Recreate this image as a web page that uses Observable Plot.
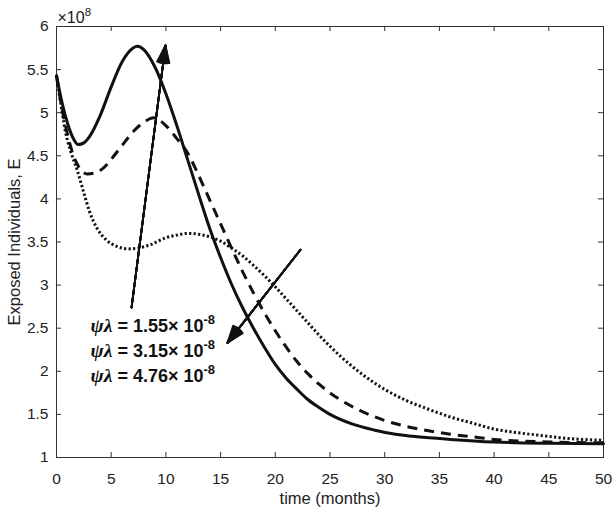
<!DOCTYPE html>
<html>
<head>
<meta charset="utf-8">
<script src="https://cdn.jsdelivr.net/npm/d3@7"></script>
<script src="https://cdn.jsdelivr.net/npm/@observablehq/plot@0.6"></script>
<style>
  html, body { margin: 0; padding: 0; background: #fff; }
  #chart svg { display: block; }
</style>
</head>
<body>
<div id="chart"></div>
<script>
// ---- data (E in units of 1e8) ----
const tSolid = [0,0.5,1,1.5,2,2.5,3,4,5,6,7,7.4,8,9,10,11,12,13,14,15,16,17,18,19,20,21,22,23,24,25,27,29,31,33,36,40,45,50];
const eSolid = [5.43,5.12,4.88,4.71,4.63,4.65,4.72,4.97,5.30,5.59,5.75,5.77,5.73,5.53,5.22,4.85,4.45,4.05,3.66,3.32,3.01,2.74,2.50,2.28,2.08,1.92,1.79,1.67,1.58,1.50,1.39,1.32,1.27,1.24,1.21,1.18,1.165,1.16];

const tDashed = [0,0.5,1,1.5,2,2.8,3.5,4.3,5,6,7,8,8.9,10,11,12,13,14,15,16,17,18,19,20,21,22,23,24,25,26.6,28,30,32,34,36,38,40,45,50];
const eDashed = [5.43,5.05,4.75,4.52,4.38,4.29,4.30,4.36,4.46,4.62,4.78,4.89,4.94,4.85,4.70,4.53,4.27,3.99,3.71,3.43,3.16,2.91,2.68,2.47,2.28,2.11,1.97,1.85,1.75,1.62,1.53,1.43,1.36,1.31,1.27,1.24,1.21,1.18,1.17];

const tDotted = [0,0.4,0.8,1.3,1.9,2.5,3,3.7,4.5,5.5,6.5,7.5,8.6,10,11,12,13,14,15,16,17,18,19,20,21,22,23,24,25,26,27,28,30,32,34,36,38,40,42,44,46,48,50];
const eDotted = [5.43,5.10,4.79,4.55,4.33,4.07,3.86,3.66,3.53,3.45,3.42,3.43,3.47,3.55,3.58,3.60,3.59,3.56,3.51,3.43,3.34,3.23,3.11,2.98,2.84,2.70,2.56,2.42,2.29,2.17,2.06,1.96,1.79,1.66,1.56,1.47,1.40,1.33,1.29,1.26,1.23,1.21,1.20];

const xTicks = [0,5,10,15,20,25,30,35,40,45,50];
const yTicks = [1,1.5,2,2.5,3,3.5,4,4.5,5,5.5,6];

const labelTexts = ["ψλ = 1.55× 10^-8", "ψλ = 3.15× 10^-8", "ψλ = 4.76× 10^-8"];
const labelX = [3.1, 3.1, 3.1];
const labelY = [2.52, 2.23, 1.94];

const arrowX1 = [6.86, 22.3];
const arrowY1 = [2.74, 3.41];
const arrowX2 = [9.96, 15.63];
const arrowY2 = [5.78, 2.33];

const xLabel = "time (months)";
const yLabel = "Exposed Individuals, E";
const exponentLabel = "×10^8";

// ---- build tables ----
const toRows = (ts, es) => ts.map((t, i) => ({t, e: es[i]}));
const solid = toRows(tSolid, eSolid);
const dashed = toRows(tDashed, eDashed);
const dotted = toRows(tDotted, eDotted);
const labels = labelTexts.map((s, i) => ({s, x: labelX[i], y: labelY[i]}));
const arrows = arrowX1.map((x1, i) => ({x1, y1: arrowY1[i], x2: arrowX2[i], y2: arrowY2[i]}));

const W = 614, H = 511;
const mL = 56, mR = 11, mT = 26, mB = 54;
const innerW = W - mL - mR, innerH = H - mT - mB;
const axisColor = "#333";
const ink = "#111";
const txt = "#222";

const headFan = [4, 10, 16, 22, 28, 34, 40];

const plot = Plot.plot({
  width: W, height: H,
  marginLeft: mL, marginRight: mR, marginTop: mT, marginBottom: mB,
  style: {fontFamily: "'Liberation Sans', Arial, Helvetica, sans-serif", fontSize: "15.5px", color: txt, background: "#fff"},
  x: {domain: [0, 50], ticks: xTicks, tickSize: 0, tickPadding: 15, tickFormat: d => String(d), label: null},
  y: {domain: [1, 6], ticks: yTicks, tickSize: 0, tickPadding: 8, tickFormat: d => String(d), label: null},
  marks: [
    Plot.frame({stroke: axisColor, strokeWidth: 1}),
    Plot.tickX(xTicks, {x: d => d, insetTop: innerH - 5, stroke: axisColor}),
    Plot.tickX(xTicks, {x: d => d, insetBottom: innerH - 5, stroke: axisColor}),
    Plot.tickY(yTicks, {y: d => d, insetRight: innerW - 5, stroke: axisColor}),
    Plot.tickY(yTicks, {y: d => d, insetLeft: innerW - 5, stroke: axisColor}),
    Plot.line(dotted, {x: "t", y: "e", stroke: ink, strokeWidth: 3, strokeDasharray: "2.2,2.3", strokeLinecap: "butt", curve: "monotone-x"}),
    Plot.line(dashed, {x: "t", y: "e", stroke: ink, strokeWidth: 3, strokeDasharray: "10,7", strokeLinecap: "butt", curve: "monotone-x"}),
    Plot.line(solid, {x: "t", y: "e", stroke: ink, strokeWidth: 3, curve: "monotone-x"}),
    ...headFan.map(a => Plot.arrow(arrows, {x1: "x1", y1: "y1", x2: "x2", y2: "y2", stroke: ink, strokeWidth: 1.8, headLength: 15, headAngle: a})),
    Plot.text(labels, {x: "x", y: "y", text: "s", textAnchor: "start", fontWeight: "bold", fontSize: 18, fill: ink}),
    Plot.text([xLabel], {frameAnchor: "bottom", lineAnchor: "middle", dy: 41, fontSize: 16.5, fill: txt}),
    Plot.text([yLabel], {frameAnchor: "left", textAnchor: "middle", lineAnchor: "middle", rotate: -90, dx: -42, fontSize: 16.5, fill: txt}),
    Plot.text([exponentLabel], {frameAnchor: "top-left", textAnchor: "start", lineAnchor: "bottom", dx: 1, dy: -4, fontSize: 16, fill: txt})
  ]
});

// superscripts and italic Greek
d3.select(plot).selectAll("text").each(function() {
  const s = this.textContent;
  if (!s.includes("^")) return;
  const [base, sup] = s.split("^");
  const el = d3.select(this);
  el.text(null);
  let rest = base;
  if (rest.startsWith("ψλ")) {
    el.append("tspan").attr("font-style", "italic").attr("font-family", "'Liberation Serif', 'DejaVu Serif', serif").attr("font-size", "1.1em").text("ψλ");
    rest = rest.slice(2);
  }
  el.append("tspan").text(rest);
  el.append("tspan").attr("dy", "-0.6em").attr("font-size", "0.72em").text(sup);
});

document.getElementById("chart").appendChild(plot);
</script>
</body>
</html>
